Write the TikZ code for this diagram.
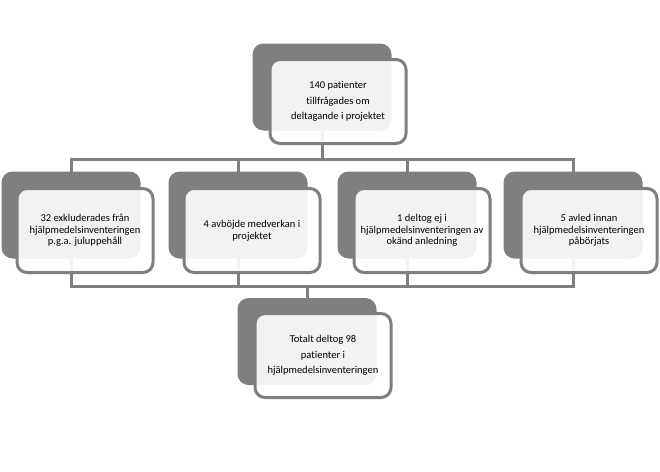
\documentclass[tikz,border=0pt]{standalone}
\usepackage{fontspec}
\setmainfont{Carlito}[Ligatures=NoCommon]
\pgfdeclarelayer{bg}
\pgfsetlayers{bg,main}
\definecolor{boxgray}{HTML}{7F7F7F}
\tikzset{
    back/.style={rectangle, rounded corners=11pt, fill=boxgray, minimum width=139pt, minimum height=87pt, inner sep=0pt},
    front/.style={rectangle, rounded corners=10pt, draw=boxgray, line width=3pt, fill=white, fill opacity=.9, text opacity=1,
        minimum width=136pt, minimum height=84pt, inner sep=0pt, align=center, font=\fontsize{10.5}{11.5}\selectfont},
    wide/.style={font=\fontsize{10.5}{15.5}\selectfont},
    link/.style={draw=boxgray, line width=3pt, line join=miter}
}

\begin{document}
\begin{tikzpicture}[x=1pt, y=-1pt]
    \useasboundingbox (0,0) rectangle (660,471);

    \node (b0) [back] at (322,87) {};
    \node (f0) [front, wide] at (338,101.5) {140 patienter\\tillfrågades om\\deltagande i projektet};

    \node (b1) [back] at (71,215) {};
    \node (f1) [front] at (85,230.5) {32 exkluderades från\\hjälpmedelsinventeringen\\p.g.a. juluppehåll};
    \node (b2) [back] at (238,215) {};
    \node (f2) [front] at (252,230.5) {4 avböjde medverkan i\\projektet};
    \node (b3) [back] at (407,215) {};
    \node (f3) [front] at (422,230.5) {1 deltog ej i\\hjälpmedelsinventeringen av\\okänd anledning};
    \node (b4) [back] at (573,215) {};
    \node (f4) [front] at (589,230.5) {5 avled innan\\hjälpmedelsinventeringen\\påbörjats};

    \node (b5) [back] at (307,341.5) {};
    \node (f5) [front, wide] at (323,355.5) {Totalt deltog 98\\patienter i\\hjälpmedelsinventeringen};

    \coordinate (upL) at (71,159);
    \coordinate (upR) at (573,159);
    \coordinate (loL) at (71,286);
    \coordinate (loR) at (573,286);

    \begin{pgfonlayer}{bg}
        \draw [link] (b0.center) -- (b0 |- upL);
        \draw [link] (b1.center) -- (upL) -- (upR) -- (b4.center);
        \draw [link] (b2.center) -- (b2 |- upL);
        \draw [link] (b3.center) -- (b3 |- upL);

        \draw [link] (b1.center) -- (loL) -- (loR) -- (b4.center);
        \draw [link] (b2.center) -- (b2 |- loL);
        \draw [link] (b3.center) -- (b3 |- loL);
        \draw [link] (b5.center) -- (b5 |- loL);
    \end{pgfonlayer}
\end{tikzpicture}
\end{document}
